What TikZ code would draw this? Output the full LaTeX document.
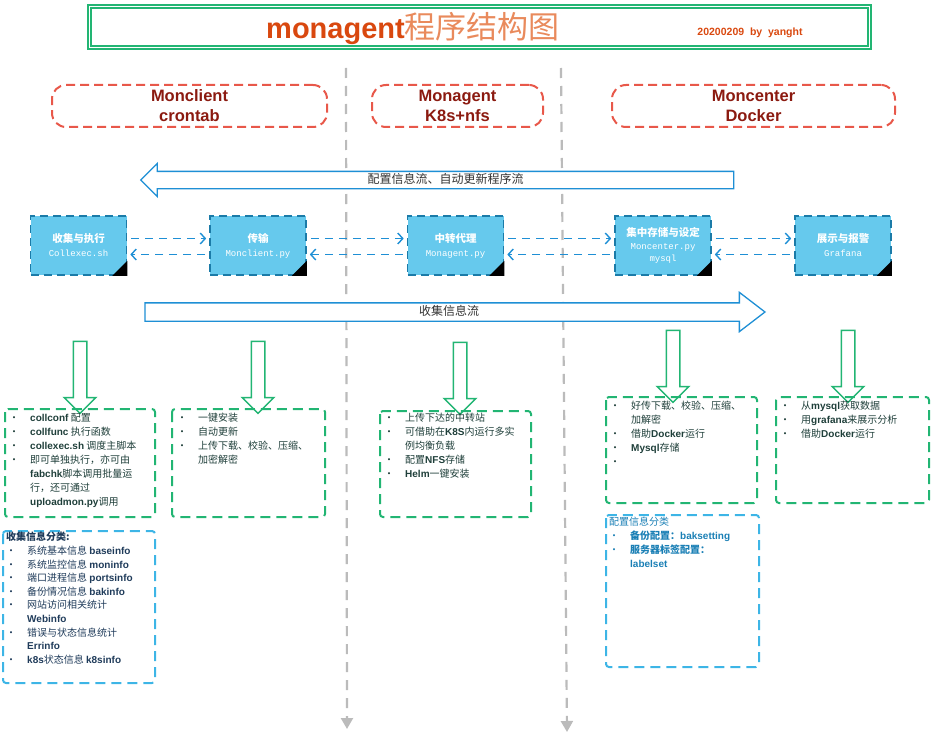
\documentclass[tikz,border=0pt]{standalone}
\usepackage{fontspec}
\usepackage{xcolor}
\setmainfont{Noto Sans CJK SC}
\newfontfamily\lsans{Liberation Sans}
\newfontfamily\lmono{Liberation Mono}
\usetikzlibrary{arrows.meta,shapes.arrows}

\definecolor{framegreen}{HTML}{22B573}
\definecolor{titleorange}{HTML}{D9480F}
\definecolor{titlelight}{HTML}{E98A5C}
\definecolor{headred}{HTML}{E8584A}
\definecolor{headtext}{HTML}{8B1A10}
\definecolor{procfill}{HTML}{66C9ED}
\definecolor{procline}{HTML}{1B7BA8}
\definecolor{flowblue}{HTML}{1E8FD5}
\definecolor{infoblue}{HTML}{3DB5E6}
\definecolor{divgray}{HTML}{BBBBBB}
\definecolor{listtext}{HTML}{1F3F3A}
\definecolor{cattext}{HTML}{1F3B5A}
\definecolor{cfgtext}{HTML}{1A7FB5}

\newcommand\en[1]{{\lsans\bfseries #1}}
\newcommand\bl{\makebox[21pt][l]{\textbullet}}
\newcommand\cl{\hspace*{21pt}}

\begin{document}
\begin{tikzpicture}[x=1pt,y=-1pt,
  headbox/.style={draw=headred,line width=2pt,dash pattern=on 9pt off 5pt,rounded corners=14pt,
    minimum height=42pt,text=headtext,align=center,font=\lsans\bfseries\fontsize{16.5}{21}\selectfont},
  proc/.style={draw=procline,fill=procfill,line width=1.6pt,dash pattern=on 8pt off 5pt,
    minimum width=96pt,minimum height=59pt,align=center,text=white,font=\fontsize{10.5}{14}\selectfont},
  flow/.style={draw=flowblue,line width=1.4pt,dash pattern=on 8pt off 6pt,
    -{Straight Barb[length=5pt,width=11pt]},shorten <=4pt,shorten >=3pt},
  bigarrow/.style={single arrow,draw=flowblue,line width=1.3pt,fill=white,single arrow head indent=0pt,
    inner xsep=0pt,text height=8pt,text depth=2pt,font=\fontsize{12}{14}\selectfont,text=black!80},
  downarrow/.style={single arrow,draw=framegreen,line width=1.5pt,fill=white,shape border rotate=270,
    single arrow head extend=9pt,single arrow head indent=0pt,minimum height=72pt,inner sep=0pt,
    text width=12pt,text height=0pt},
  listbox/.style={draw=framegreen,line width=2pt,dash pattern=on 10pt off 6pt,rounded corners=3pt},
  infobox/.style={draw=infoblue,line width=2pt,dash pattern=on 10pt off 6pt,rounded corners=3pt},
  listtxt/.style={anchor=north west,align=left,inner sep=0pt,text=listtext,font=\fontsize{10}{14}\selectfont},
  divider/.style={draw=divgray,line width=2.2pt,dash pattern=on 10pt off 8pt,
    -{Triangle[width=12pt,length=11pt]}}]
\useasboundingbox (0,0) rectangle (931,733);

% title
\node[draw=framegreen,line width=2pt,double=white,double distance=1pt,
  minimum width=780pt,minimum height=41pt] (frame) at (479,27.5) {};
\node[text=titleorange] (title) at (413,28) {\lsans\bfseries\fontsize{29}{32}\selectfont monagent{\rmfamily\mdseries\color{titlelight}\fontsize{31}{32}\selectfont 程序结构图}};
\node[text=titleorange,font=\lsans\bfseries\fontsize{10.5}{12}\selectfont] (date) at (750,33) {20200209 \ by \ yanght};

% column dividers
\coordinate (d1t) at (346,68);
\coordinate (d1b) at (347,729);
\coordinate (d2t) at (561,68);
\coordinate (d2b) at (567,732);
\draw[divider] (d1t) -- (d1b);
\draw[divider] (d2t) -- (d2b);

% layers
\node[headbox,minimum width=275pt] (client) at (189.5,106) {Monclient\\[-1pt]crontab};
\node[headbox,minimum width=171pt] (agent) at (457.5,106) {Monagent\\[-1pt]K8s+nfs};
\node[headbox,minimum width=283pt] (center) at (753.5,106) {Moncenter\\[-1pt]Docker};

% flows
\node[bigarrow,shape border rotate=180,minimum height=593pt,inner ysep=3pt,single arrow head extend=8pt]
  (cfgflow) at (441.5,180) {\hspace{8pt}配置信息流、自动更新程序流};
\node[bigarrow,minimum height=620pt,inner ysep=3.5pt,single arrow head extend=10.5pt,single arrow tip angle=75]
  (colflow) at (449,312) {收集信息流};

% processes
\node[proc] (collect) at (78.5,245.5) {\textbf{收集与执行}\\{\lmono\fontsize{9}{12}\selectfont Collexec.sh}};
\node[proc] (transfer) at (258,245.5) {\textbf{传输}\\{\lmono\fontsize{9}{12}\selectfont Monclient.py}};
\node[proc] (relay) at (455.5,245.5) {\textbf{中转代理}\\{\lmono\fontsize{9}{12}\selectfont Monagent.py}};
\node[proc,font=\fontsize{10.5}{12.5}\selectfont] (store) at (663,245.5) {\textbf{集中存储与设定}\\{\lmono\fontsize{9}{12}\selectfont Moncenter.py}\\{\lmono\fontsize{9}{12}\selectfont mysql}};
\node[proc] (show) at (843,245.5) {\textbf{展示与报警}\\{\lmono\fontsize{9}{12}\selectfont Grafana}};
\foreach \n in {collect,transfer,relay,store,show}
  \fill[black] ([xshift=-15pt]\n.south east) -- (\n.south east) -- ([yshift=15pt]\n.south east) -- cycle;

\foreach \a/\b in {collect/transfer,transfer/relay,relay/store,store/show}{
  \draw[flow] ([yshift=7pt]\a.east) -- ([yshift=7pt]\b.west);
  \draw[flow] ([yshift=-9pt]\b.west) -- ([yshift=-9pt]\a.east);
}

% down arrows
\node[downarrow] (dn1) at (80,374) {};
\node[downarrow] (dn2) at (258,374) {};
\node[downarrow] (dn3) at (460,375) {};
\node[downarrow] (dn4) at (673,363) {};
\node[downarrow] (dn5) at (848,363) {};

% detail boxes
\draw[listbox] (5,409) rectangle (155,517);
\draw[listbox] (172,409) rectangle (325,517);
\draw[listbox] (380,411) rectangle (531,517);
\draw[listbox] (606,397) rectangle (757,503);
\draw[listbox] (776,397) rectangle (929,503);
\draw[infobox] (3,531) rectangle (155,683);
\draw[infobox] (606,515) rectangle (759,667);

\node[listtxt] (listA) at (9,413) {\bl\en{collconf} 配置\\\bl\en{collfunc} 执行函数\\\bl\en{collexec.sh} 调度主脚本\\\bl 即可单独执行，亦可由\\\cl\en{fabchk}脚本调用批量运\\\cl 行，还可通过\\\cl\en{uploadmon.py}调用};
\node[listtxt] (listB) at (177,413) {\bl 一键安装\\\bl 自动更新\\\bl 上传下载、校验、压缩、\\\cl 加密解密};
\node[listtxt] (listC) at (384,413) {\bl 上传下达的中转站\\\bl 可借助在\en{K8S}内运行多实\\\cl 例均衡负载\\\bl 配置\en{NFS}存储\\\bl \en{Helm}一键安装};
\node[listtxt] (listD) at (610,401) {\bl 好传下载、校验、压缩、\\\cl 加解密\\\bl 借助\en{Docker}运行\\\bl \en{Mysql}存储\\\bl};
\node[listtxt] (listE) at (780,401) {\bl 从\en{mysql}获取数据\\\bl 用\en{grafana}来展示分析\\\bl 借助\en{Docker}运行};
\node[listtxt,text=cattext,font=\fontsize{10}{13.6}\selectfont] (listF) at (6,532) {\textbf{收集信息分类:}\\\bl 系统基本信息 \en{baseinfo}\\\bl 系统监控信息 \en{moninfo}\\\bl 端口进程信息 \en{portsinfo}\\\bl 备份情况信息 \en{bakinfo}\\\bl 网站访问相关统计\\\cl\en{Webinfo}\\\bl 错误与状态信息统计\\\cl\en{Errinfo}\\\bl\en{k8s}状态信息 \en{k8sinfo}};
\node[listtxt,text=cfgtext,font=\fontsize{10}{14}\selectfont] (listG) at (609,517) {配置信息分类\\\bl\textbf{备份配置：}\en{baksetting}\\\bl\textbf{服务器标签配置：}\\\cl\en{labelset}};
\end{tikzpicture}
\end{document}
